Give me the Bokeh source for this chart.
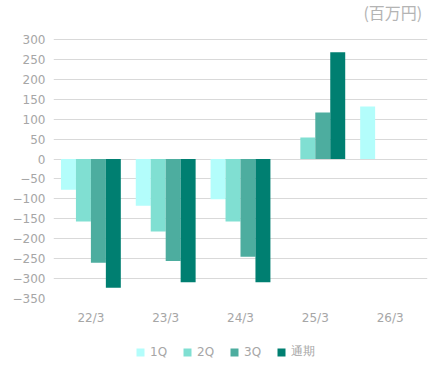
from bokeh.plotting import figure
from bokeh.models import (ColumnDataSource, FactorRange, Range1d, FixedTicker,
                          Legend, LegendItem, Label)
from bokeh.layouts import column
from bokeh.transform import dodge
from bokeh.embed import file_html
from bokeh.resources import INLINE

categories = ["22/3", "23/3", "24/3", "25/3", "26/3"]
series_names = ["1Q", "2Q", "3Q", "通期"]
q1 = [-77, -117, -101, float("nan"), 132]
q2 = [-157, -182, -157, 54, float("nan")]
q3 = [-260, -256, -245, 117, float("nan")]
full = [-323, -309, -309, 268, float("nan")]
y_ticks = list(range(-350, 301, 50))
unit_label = "(百万円)"

colors = ["#b3fdfb", "#80dfd2", "#4dad9f", "#007f71"]
offsets = [-0.3, -0.1, 0.1, 0.3]

src = ColumnDataSource(dict(cat=categories, q1=q1, q2=q2, q3=q3, full=full))

# frame reaches the top of the canvas so the unit label can sit inside it
p = figure(x_range=FactorRange(*categories, range_padding=0),
           y_range=Range1d(-350, 398),
           width=430, height=328, output_backend="svg", toolbar_location=None,
           min_border_left=53, min_border_right=3, min_border_top=0,
           min_border_bottom=30)

renderers = []
for col, off, c in zip(["q1", "q2", "q3", "full"], offsets, colors):
    r = p.vbar(x=dodge("cat", off, range=p.x_range), top=col, bottom=0,
               width=0.2, source=src, fill_color=c, line_color=None)
    renderers.append(r)

p.outline_line_color = None
p.xgrid.grid_line_color = None
p.ygrid.grid_line_color = "#d9d9d9"
p.ygrid.grid_line_width = 1
p.yaxis.ticker = FixedTicker(ticks=y_ticks)

for ax in (p.xaxis[0], p.yaxis[0]):
    ax.axis_line_color = None
    ax.major_tick_line_color = None
    ax.minor_tick_line_color = None
    ax.major_tick_out = 0
    ax.major_tick_in = 0
    ax.major_label_text_color = "#a6a6a6"
    ax.major_label_text_font = "DejaVu Sans"
    ax.major_label_text_font_size = "12px"
p.yaxis.major_label_standoff = 8
p.xaxis.major_label_standoff = 12

p.add_layout(Label(x=4.93, y=368, text=unit_label, text_align="right",
                   text_baseline="middle", text_font="Noto Sans CJK JP",
                   text_font_size="16px", text_color="#b4b4b4"))

# legend in a separate strip below the chart (proxy glyphs have zero size)
lg = figure(width=430, height=45, output_backend="svg", toolbar_location=None,
            x_range=Range1d(0, 1), y_range=Range1d(0, 1),
            min_border_left=0, min_border_right=0, min_border_top=0, min_border_bottom=0)
lg.axis.visible = False
lg.grid.visible = False
lg.outline_line_color = None
proxy = ColumnDataSource(dict(x=[0.5], top=[0.5], bottom=[0.5]))
lg_renderers = [lg.vbar(x="x", top="top", bottom="bottom", width=0, source=proxy,
                        fill_color=c, line_color=None) for c in colors]

legend = Legend(items=[LegendItem(label=n, renderers=[r]) for n, r in zip(series_names, lg_renderers)],
                orientation="horizontal", location=(82, 13),
                glyph_width=10, glyph_height=10, label_standoff=5, spacing=12,
                label_text_font="DejaVu Sans", label_text_font_size="12px",
                label_text_color="#a6a6a6", border_line_color=None,
                background_fill_alpha=0, padding=2, margin=0)
lg.add_layout(legend, "center")

layout = column(p, lg, spacing=0)
open("out.html", "w").write(file_html(layout, INLINE))
